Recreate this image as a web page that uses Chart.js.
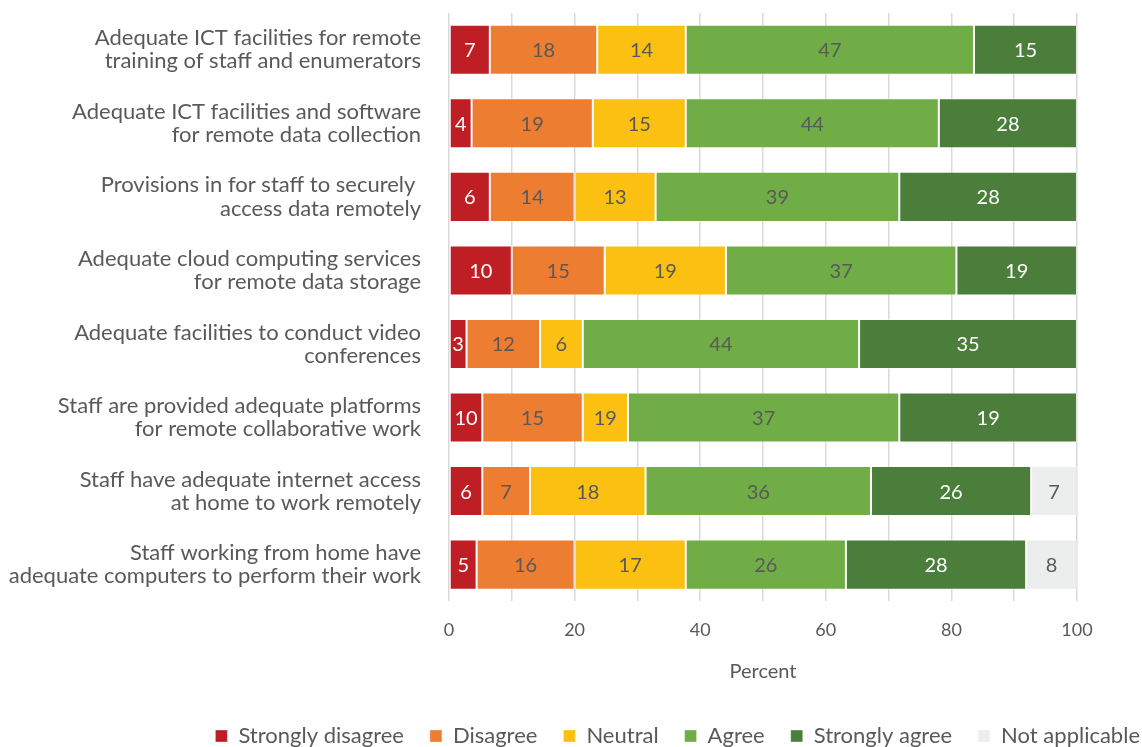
<!DOCTYPE html>
<html>
<head>
<meta charset="utf-8">
<script src="https://cdn.jsdelivr.net/npm/chart.js@4.4.1/dist/chart.umd.min.js"></script>
<style>
  html, body { margin: 0; padding: 0; background: #fff; }
  #wrap { width: 1142px; height: 747px; }
</style>
</head>
<body>
<div id="wrap"><canvas id="surveyChart" width="1142" height="747"></canvas></div>
<script>
// statements (y categories)
var statements = [
  ['Adequate ICT facilities for remote', 'training of staff and enumerators'],
  ['Adequate ICT facilities and software', 'for remote data collection'],
  ['Provisions in for staff to securely ', 'access data remotely'],
  ['Adequate cloud computing services', 'for remote data storage'],
  ['Adequate facilities to conduct video', 'conferences'],
  ['Staff are provided adequate platforms', 'for remote collaborative work'],
  ['Staff have adequate internet access', 'at home to work remotely'],
  ['Staff working from home have', 'adequate computers to perform their work']
];

// bar lengths (percent)
var stronglyDisagree = [6.5, 3.6, 6.5, 10.0, 2.8, 5.3, 5.3, 4.4];
var disagree         = [17.1, 19.3, 13.5, 14.8, 11.7, 16.0, 7.6, 15.6];
var neutral          = [14.1, 14.8, 12.9, 19.3, 6.8, 7.2, 18.4, 17.7];
var agree            = [45.9, 40.3, 38.8, 36.7, 44.0, 43.2, 35.9, 25.5];
var stronglyAgree    = [16.4, 22.0, 28.3, 19.2, 34.7, 28.3, 25.5, 28.7];
var notApplicable    = [0, 0, 0, 0, 0, 0, 7.3, 8.1];

// the numbers printed on the bars (as shown in the original)
var lblStronglyDisagree = ['7', '4', '6', '10', '3', '10', '6', '5'];
var lblDisagree         = ['18', '19', '14', '15', '12', '15', '7', '16'];
var lblNeutral          = ['14', '15', '13', '19', '6', '19', '18', '17'];
var lblAgree            = ['47', '44', '39', '37', '44', '37', '36', '26'];
var lblStronglyAgree    = ['15', '28', '28', '19', '35', '19', '26', '28'];
var lblNotApplicable    = ['', '', '', '', '', '', '7', '8'];

var FONT = 'Lato, "Open Sans", sans-serif';
var GREY = '#595959';

function series(label, data, labels, color, textColor) {
  return {
    label: label,
    data: data,
    barLabels: labels,
    textColor: textColor,
    backgroundColor: color,
    borderColor: 'rgba(255,255,255,0.35)',
    borderWidth: 1,
    borderSkipped: false,
    categoryPercentage: 1.0,
    barPercentage: 0.68
  };
}

// draws the value text in the middle of every segment
var barText = {
  id: 'barText',
  afterDatasetsDraw: function (chart) {
    var ctx = chart.ctx;
    ctx.save();
    ctx.font = '20px ' + FONT;
    ctx.textAlign = 'center';
    ctx.textBaseline = 'middle';
    chart.data.datasets.forEach(function (ds, i) {
      var meta = chart.getDatasetMeta(i);
      meta.data.forEach(function (bar, j) {
        var txt = ds.barLabels[j];
        if (!txt) return;
        var p = bar.getProps(['x', 'y', 'base'], true);
        ctx.fillStyle = ds.textColor;
        ctx.fillText(txt, (p.x + p.base) / 2, p.y + 1);
      });
    });
    ctx.restore();
  }
};

function noPad(scale) {
  scale.paddingTop = 0;
  scale.paddingBottom = 0;
}

var ctx = document.getElementById('surveyChart').getContext('2d');
var surveyChart = new Chart(ctx, {
  type: 'bar',
  data: {
    labels: statements,
    datasets: [
      series('Strongly disagree', stronglyDisagree, lblStronglyDisagree, '#BE1E24', '#ffffff'),
      series('Disagree', disagree, lblDisagree, '#ED7D31', GREY),
      series('Neutral', neutral, lblNeutral, '#FBC012', GREY),
      series('Agree', agree, lblAgree, '#70AD47', GREY),
      series('Strongly agree', stronglyAgree, lblStronglyAgree, '#4A7E3A', '#ffffff'),
      series('Not applicable', notApplicable, lblNotApplicable, '#ECEDED', GREY)
    ]
  },
  plugins: [barText],
  options: {
    indexAxis: 'y',
    responsive: false,
    animation: false,
    layout: { padding: { left: 0, right: -24, top: 13, bottom: -10 } },
    scales: {
      x: {
        stacked: true,
        min: 0,
        max: 100,
        grid: { color: '#D9D9D9', lineWidth: 1.5, drawTicks: false },
        border: { display: false },
        ticks: {
          stepSize: 10,
          padding: 18,
          color: GREY,
          font: { family: FONT, size: 18 },
          callback: function (v) { return v % 20 === 0 ? v : ''; }
        },
        title: {
          display: true,
          text: 'Percent',
          color: GREY,
          font: { family: FONT, size: 20 },
          padding: { top: 1, bottom: 15 }
        }
      },
      y: {
        stacked: true,
        grid: { display: false, drawTicks: false },
        border: { display: false },
        ticks: {
          padding: 28,
          color: GREY,
          font: { family: FONT, size: 22, lineHeight: 1.05 }
        },
        afterFit: function (scale) { scale.width = 449; noPad(scale); }
      },
      // empty strip on the right, so the plot ends at 100 while the legend can run wider
      yRight: {
        type: 'category',
        position: 'right',
        grid: { display: false, drawTicks: false },
        border: { display: false },
        ticks: { display: false },
        afterFit: function (scale) { scale.width = 89; noPad(scale); }
      }
    },
    plugins: {
      legend: {
        position: 'bottom',
        align: 'end',
        labels: {
          boxWidth: 12,
          boxHeight: 12,
          padding: 26,
          color: GREY,
          font: { family: FONT, size: 22 }
        }
      },
      tooltip: { enabled: false }
    }
  }
});
</script>
</body>
</html>
